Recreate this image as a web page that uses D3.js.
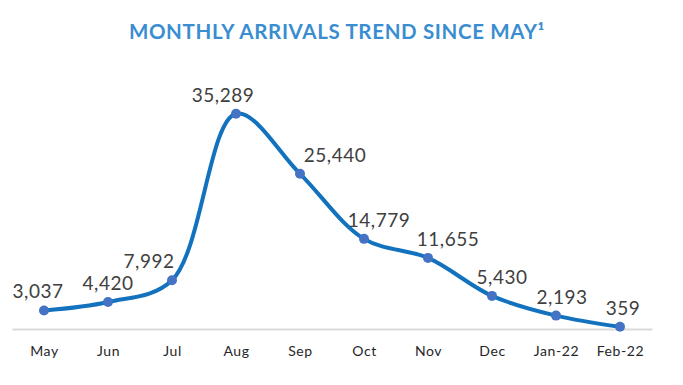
<!DOCTYPE html>
<html>
<head>
<meta charset="utf-8">
<script src="https://cdn.jsdelivr.net/npm/d3@7"></script>
<style>
  body { margin: 0; background: #fff; }
  svg { display: block; font-family: Lato, "Open Sans", sans-serif; }
</style>
</head>
<body>
<div id="chart"></div>
<script>
// data
const months = ["May", "Jun", "Jul", "Aug", "Sep", "Oct", "Nov", "Dec", "Jan-22", "Feb-22"];
const arrivals = [3037, 4420, 7992, 35289, 25440, 14779, 11655, 5430, 2193, 359];

// label nudges (px) so the values sit like the original
const labelDx = [-6, 0, -23, -13, 35, 15, 20, 10, 6, 3];

const width = 683, height = 385;

const svg = d3.select("#chart")
    .append("svg")
    .attr("width", width)
    .attr("height", height);

// title
svg.append("text")
    .attr("x", 337)
    .attr("y", 39)
    .attr("text-anchor", "middle")
    .attr("fill", "#3a8dd0")
    .attr("font-size", 20.5)
    .attr("font-weight", "bold")
    .attr("letter-spacing", 0.65)
    .text("MONTHLY ARRIVALS TREND SINCE MAY\u00B9");

// scales
const x = d3.scalePoint()
    .domain(months)
    .range([12, 652])
    .padding(0.5);

const y = d3.scaleLinear()
    .domain([0, 40000])
    .range([329, 85]);

// x axis: grey baseline, no ticks
const xAxis = svg.append("g")
    .attr("transform", `translate(0,${y(0)})`)
    .call(d3.axisBottom(x).tickSize(0).tickPadding(17));

xAxis.select(".domain")
    .attr("stroke", "#d9d9d9")
    .attr("stroke-width", 2);

xAxis.selectAll("text")
    .attr("font-family", "Lato, sans-serif")
    .attr("font-size", 14)
    .attr("letter-spacing", 0.6)
    .attr("fill", "#262626");

// smoothed line
const line = d3.line()
    .x((d, i) => x(months[i]))
    .y(d => y(d))
    .curve(d3.curveCatmullRom.alpha(0.5));

svg.append("path")
    .datum(arrivals)
    .attr("fill", "none")
    .attr("stroke", "#1272be")
    .attr("stroke-width", 4)
    .attr("d", line);

// markers
svg.append("g")
    .selectAll("circle")
    .data(arrivals)
    .join("circle")
    .attr("cx", (d, i) => x(months[i]))
    .attr("cy", d => y(d))
    .attr("r", 5)
    .attr("fill", "#4472c4");

// value labels
svg.append("g")
    .selectAll("text")
    .data(arrivals)
    .join("text")
    .attr("x", (d, i) => x(months[i]) + labelDx[i])
    .attr("y", d => y(d) - 12)
    .attr("text-anchor", "middle")
    .attr("font-size", 19)
    .attr("letter-spacing", 0.5)
    .attr("fill", "#404040")
    .text(d => d3.format(",")(d));
</script>
</body>
</html>
